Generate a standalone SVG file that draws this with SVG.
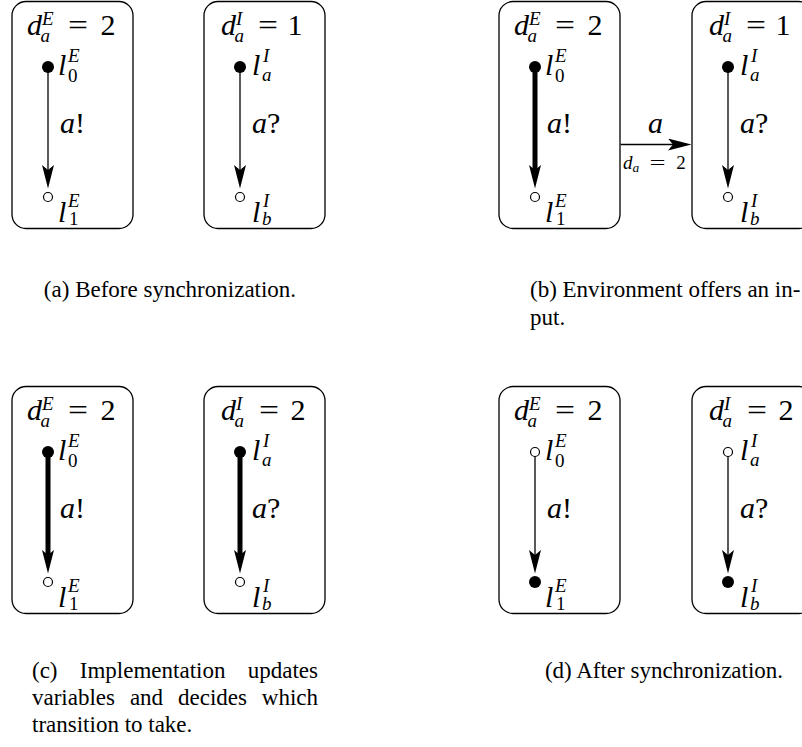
<svg xmlns="http://www.w3.org/2000/svg" width="802" height="747" viewBox="0 0 802 747" font-family="'Liberation Serif', 'Times New Roman', serif">
  <defs>
    <style>
      .box { fill: none; stroke: #000; stroke-width: 1.3; }
      .on { fill: #000; }
      .off { fill: #fff; stroke: #000; stroke-width: 1.2; }
      .edge { fill: none; stroke: #000; stroke-width: 1.3; marker-end: url(#head); }
      .hot { stroke-width: 5; }
      text { font-family: "Liberation Serif", "Times New Roman", serif; fill: #000; }
      .m { font-size: 30px; }
      .s { font-size: 19px; }
      .i { font-style: italic; }
      .mid { text-anchor: middle; }
      .cap { font-size: 23px; }
      .end { text-anchor: end; }
    </style>
    <!-- indented arrowhead; reference point sits in the notch so thick shafts stay hidden -->
    <marker id="head" markerUnits="userSpaceOnUse" markerWidth="24" markerHeight="12" viewBox="0 0 24 12" refX="5" refY="6" orient="auto">
      <path d="M0,0 L23.5,6 L0,12 L5,6 Z" fill="#000"/>
    </marker>
  </defs>
  <rect width="802" height="747" fill="#fff"/>

  <!-- ===== (a) Before synchronization ===== -->
  <g id="a-env" transform="translate(12,0)">
    <rect class="box" x="0" y="1.5" width="121" height="227" rx="14"/>
    <text class="m i" x="15" y="35">d</text><text class="s i" x="30" y="25">E</text><text class="s i" x="28.5" y="42">a</text>
    <text class="m mid" x="66" y="35" textLength="20" lengthAdjust="spacingAndGlyphs">=</text><text class="m mid" x="96" y="35">2</text>
    <text class="m" x="48" y="133"><tspan class="i">a</tspan>!</text>
    <g id="a-env-l0"><circle class="on" cx="36" cy="67" r="6"/><text class="m i" x="46" y="75">l</text><text class="s i" x="56" y="62">E</text><text class="s" x="56" y="82">0</text></g>
    <g id="a-env-l1"><circle class="off" cx="36" cy="197" r="4.5"/><text class="m i" x="46" y="222">l</text><text class="s i" x="56" y="207">E</text><text class="s" x="57" y="225">1</text></g>
  </g>
  <g id="a-imp" transform="translate(204,0)">
    <rect class="box" x="0" y="1.5" width="121" height="227" rx="14"/>
    <text class="m i" x="17" y="35">d</text><text class="s i" x="32" y="25">I</text><text class="s i" x="30.5" y="42">a</text>
    <text class="m mid" x="64" y="35" textLength="20" lengthAdjust="spacingAndGlyphs">=</text><text class="m mid" x="91" y="35">1</text>
    <text class="m" x="48" y="133"><tspan class="i">a</tspan>?</text>
    <g id="a-imp-la"><circle class="on" cx="36" cy="67" r="6"/><text class="m i" x="48" y="75">l</text><text class="s i" x="59" y="62">I</text><text class="s i" x="58" y="81">a</text></g>
    <g id="a-imp-lb"><circle class="off" cx="36" cy="197" r="4.5"/><text class="m i" x="48" y="222">l</text><text class="s i" x="59" y="207">I</text><text class="s i" x="58" y="225">b</text></g>
  </g>

  <!-- ===== (b) Environment offers an input ===== -->
  <g id="b-env" transform="translate(499,0)">
    <rect class="box" x="0" y="1.5" width="121" height="227" rx="14"/>
    <text class="m i" x="15" y="35">d</text><text class="s i" x="30" y="25">E</text><text class="s i" x="28.5" y="42">a</text>
    <text class="m mid" x="66" y="35" textLength="20" lengthAdjust="spacingAndGlyphs">=</text><text class="m mid" x="96" y="35">2</text>
    <text class="m" x="48" y="133"><tspan class="i">a</tspan>!</text>
    <g id="b-env-l0"><circle class="on" cx="36" cy="67" r="6"/><text class="m i" x="46" y="75">l</text><text class="s i" x="56" y="62">E</text><text class="s" x="56" y="82">0</text></g>
    <g id="b-env-l1"><circle class="off" cx="36" cy="197" r="4.5"/><text class="m i" x="46" y="222">l</text><text class="s i" x="56" y="207">E</text><text class="s" x="57" y="225">1</text></g>
  </g>
  <g id="b-imp" transform="translate(692,0)">
    <rect class="box" x="0" y="1.5" width="121" height="227" rx="14"/>
    <text class="m i" x="17" y="35">d</text><text class="s i" x="32" y="25">I</text><text class="s i" x="30.5" y="42">a</text>
    <text class="m mid" x="64" y="35" textLength="20" lengthAdjust="spacingAndGlyphs">=</text><text class="m mid" x="91" y="35">1</text>
    <text class="m" x="48" y="133"><tspan class="i">a</tspan>?</text>
    <g id="b-imp-la"><circle class="on" cx="36" cy="67" r="6"/><text class="m i" x="48" y="75">l</text><text class="s i" x="59" y="62">I</text><text class="s i" x="58" y="81">a</text></g>
    <g id="b-imp-lb"><circle class="off" cx="36" cy="197" r="4.5"/><text class="m i" x="48" y="222">l</text><text class="s i" x="59" y="207">I</text><text class="s i" x="58" y="225">b</text></g>
  </g>

  <!-- ===== (c) Implementation decides ===== -->
  <g id="c-env" transform="translate(12,385)">
    <rect class="box" x="0" y="1.5" width="121" height="227" rx="14"/>
    <text class="m i" x="15" y="35">d</text><text class="s i" x="30" y="25">E</text><text class="s i" x="28.5" y="42">a</text>
    <text class="m mid" x="66" y="35" textLength="20" lengthAdjust="spacingAndGlyphs">=</text><text class="m mid" x="96" y="35">2</text>
    <text class="m" x="48" y="133"><tspan class="i">a</tspan>!</text>
    <g id="c-env-l0"><circle class="on" cx="36" cy="67" r="6"/><text class="m i" x="46" y="75">l</text><text class="s i" x="56" y="62">E</text><text class="s" x="56" y="82">0</text></g>
    <g id="c-env-l1"><circle class="off" cx="36" cy="197" r="4.5"/><text class="m i" x="46" y="222">l</text><text class="s i" x="56" y="207">E</text><text class="s" x="57" y="225">1</text></g>
  </g>
  <g id="c-imp" transform="translate(204,385)">
    <rect class="box" x="0" y="1.5" width="121" height="227" rx="14"/>
    <text class="m i" x="17" y="35">d</text><text class="s i" x="32" y="25">I</text><text class="s i" x="30.5" y="42">a</text>
    <text class="m mid" x="65" y="35" textLength="20" lengthAdjust="spacingAndGlyphs">=</text><text class="m mid" x="94" y="35">2</text>
    <text class="m" x="48" y="133"><tspan class="i">a</tspan>?</text>
    <g id="c-imp-la"><circle class="on" cx="36" cy="67" r="6"/><text class="m i" x="48" y="75">l</text><text class="s i" x="59" y="62">I</text><text class="s i" x="58" y="81">a</text></g>
    <g id="c-imp-lb"><circle class="off" cx="36" cy="197" r="4.5"/><text class="m i" x="48" y="222">l</text><text class="s i" x="59" y="207">I</text><text class="s i" x="58" y="225">b</text></g>
  </g>

  <!-- ===== (d) After synchronization ===== -->
  <g id="d-env" transform="translate(499,385)">
    <rect class="box" x="0" y="1.5" width="121" height="227" rx="14"/>
    <text class="m i" x="15" y="35">d</text><text class="s i" x="30" y="25">E</text><text class="s i" x="28.5" y="42">a</text>
    <text class="m mid" x="66" y="35" textLength="20" lengthAdjust="spacingAndGlyphs">=</text><text class="m mid" x="96" y="35">2</text>
    <text class="m" x="48" y="133"><tspan class="i">a</tspan>!</text>
    <g id="d-env-l0"><circle class="off" cx="36" cy="67" r="4.5"/><text class="m i" x="46" y="75">l</text><text class="s i" x="56" y="62">E</text><text class="s" x="56" y="82">0</text></g>
    <g id="d-env-l1"><circle class="on" cx="36" cy="197" r="6"/><text class="m i" x="46" y="222">l</text><text class="s i" x="56" y="207">E</text><text class="s" x="57" y="225">1</text></g>
  </g>
  <g id="d-imp" transform="translate(692,385)">
    <rect class="box" x="0" y="1.5" width="121" height="227" rx="14"/>
    <text class="m i" x="17" y="35">d</text><text class="s i" x="32" y="25">I</text><text class="s i" x="30.5" y="42">a</text>
    <text class="m mid" x="65" y="35" textLength="20" lengthAdjust="spacingAndGlyphs">=</text><text class="m mid" x="94" y="35">2</text>
    <text class="m" x="48" y="133"><tspan class="i">a</tspan>?</text>
    <g id="d-imp-la"><circle class="off" cx="36" cy="67" r="4.5"/><text class="m i" x="48" y="75">l</text><text class="s i" x="59" y="62">I</text><text class="s i" x="58" y="81">a</text></g>
    <g id="d-imp-lb"><circle class="on" cx="36" cy="197" r="6"/><text class="m i" x="48" y="222">l</text><text class="s i" x="59" y="207">I</text><text class="s i" x="58" y="225">b</text></g>
  </g>

  <!-- transitions and the offered input -->
  <g id="connectors">
    <path class="edge" d="M48,67 V170"/>
    <path class="edge" d="M240,67 V170"/>
    <path class="edge hot" d="M535,67 V170"/>
    <path class="edge" d="M728,67 V170"/>
    <path class="edge" d="M620.6,144.5 H673"/>
    <text class="m i" x="648" y="133">a</text>
    <text x="623" y="169" font-size="19" font-style="italic">d</text><text x="632.5" y="172" font-size="13.5" font-style="italic">a</text>
    <text x="657.5" y="169" font-size="19" text-anchor="middle" textLength="16" lengthAdjust="spacingAndGlyphs">=</text><text x="681" y="169" font-size="19" text-anchor="middle">2</text>
    <path class="edge hot" d="M48,452 V555"/>
    <path class="edge hot" d="M240,452 V555"/>
    <path class="edge" d="M535,456.5 V555"/>
    <path class="edge" d="M728,456.5 V555"/>
  </g>

  <!-- sub-captions -->
  <g id="captions">
    <text class="cap mid" x="170" y="297">(a) Before synchronization.</text>
    <text class="cap" x="530" y="297">(b) Environment offers an in-</text>
    <text class="cap" x="530" y="325">put.</text>
    <text class="cap" x="32" y="678">(c)</text><text class="cap" x="79.8" y="678">Implementation</text><text class="cap end" x="318" y="678">updates</text>
    <text class="cap" x="32" y="705">variables</text><text class="cap" x="129.9" y="705">and</text><text class="cap" x="178" y="705">decides</text><text class="cap end" x="318" y="705">which</text>
    <text class="cap" x="32" y="732">transition to take.</text>
    <text class="cap mid" x="664" y="678">(d) After synchronization.</text>
  </g>
</svg>
